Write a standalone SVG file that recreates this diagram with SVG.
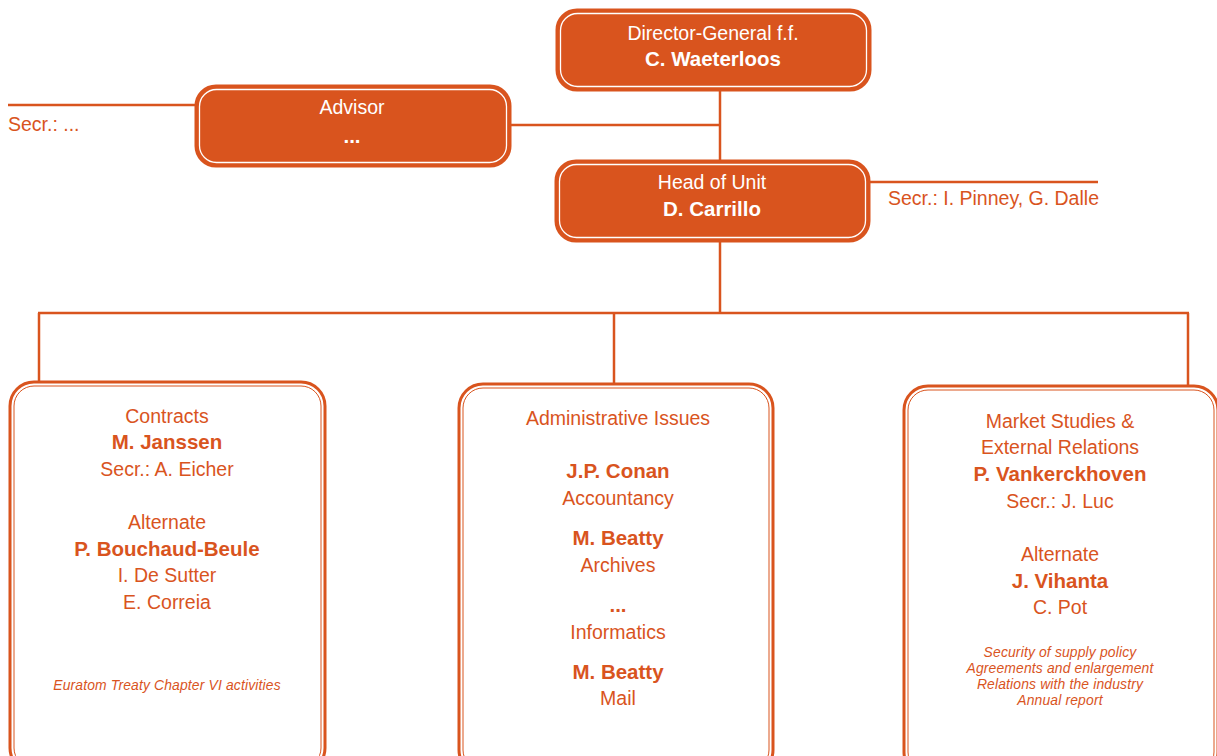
<svg xmlns="http://www.w3.org/2000/svg" width="1217" height="756" viewBox="0 0 1217 756">
<style>
.outer{fill:#fff;stroke:#D9541E;stroke-width:3}
.inner{fill:none;stroke:#D9541E;stroke-width:1}
.fouter{fill:#D9541E;stroke:#D9541E;stroke-width:3}
.finner{fill:none;stroke:#fff;stroke-width:1.3}
.c{stroke:#D9541E;stroke-width:2.5;fill:none}
text{font-family:"Liberation Sans",Arial,sans-serif;text-anchor:middle}
.w{fill:#fff;font-size:19.5px}
.wb{fill:#fff;font-size:20.5px;font-weight:bold}
.o{fill:#D9541E;font-size:19.5px}
.ob{fill:#D9541E;font-size:20.5px;font-weight:bold}
.it{fill:#D9541E;font-size:13.9px;font-style:italic;letter-spacing:0.15px}
.l{text-anchor:start}
</style>
<g id="connectors">
<line class="c" x1="720" y1="90" x2="720" y2="161"/>
<line class="c" x1="510" y1="125" x2="720" y2="125"/>
<line class="c" x1="8" y1="105" x2="197" y2="105"/>
<line class="c" x1="869" y1="182" x2="1098" y2="182"/>
<line class="c" x1="720" y1="241" x2="720" y2="313"/>
<line class="c" x1="38" y1="313" x2="1189" y2="313"/>
<line class="c" x1="39" y1="313" x2="39" y2="382"/>
<line class="c" x1="614" y1="313" x2="614" y2="384"/>
<line class="c" x1="1188" y1="313" x2="1188" y2="386"/>
</g>
<g id="dg">
<rect class="fouter" x="557" y="10" width="313" height="80" rx="20"/>
<rect class="finner" x="560.5" y="13.5" width="306" height="73" rx="17"/>
<text class="w" x="713" y="40">Director-General f.f.</text>
<text class="wb" x="713" y="66">C. Waeterloos</text>
</g>
<g id="advisor">
<rect class="fouter" x="196" y="86" width="314" height="80" rx="20"/>
<rect class="finner" x="199.5" y="89.5" width="307" height="73" rx="17"/>
<text class="w" x="352" y="114">Advisor</text>
<text class="wb" x="352" y="143">...</text>
<text class="o l" x="8" y="131">Secr.: ...</text>
</g>
<g id="head">
<rect class="fouter" x="556" y="161" width="313" height="80" rx="20"/>
<rect class="finner" x="559.5" y="164.5" width="306" height="73" rx="17"/>
<text class="w" x="712" y="189">Head of Unit</text>
<text class="wb" x="712" y="216">D. Carrillo</text>
<text class="o l" x="888" y="205">Secr.: I. Pinney, G. Dalle</text>
</g>
<g id="contracts">
<rect class="outer" x="10" y="382" width="315" height="390" rx="24"/>
<rect class="inner" x="14" y="386" width="307" height="382" rx="20"/>
<text class="o" x="167" y="423">Contracts</text>
<text class="ob" x="167" y="449">M. Janssen</text>
<text class="o" x="167" y="476">Secr.: A. Eicher</text>
<text class="o" x="167" y="529">Alternate</text>
<text class="ob" x="167" y="556">P. Bouchaud-Beule</text>
<text class="o" x="167" y="582">I. De Sutter</text>
<text class="o" x="167" y="609">E. Correia</text>
<text class="it" x="167" y="690">Euratom Treaty Chapter VI activities</text>
</g>
<g id="admin">
<rect class="outer" x="459" y="384" width="314" height="390" rx="24"/>
<rect class="inner" x="463" y="388" width="306" height="382" rx="20"/>
<text class="o" x="618" y="425">Administrative Issues</text>
<text class="ob" x="618" y="478">J.P. Conan</text>
<text class="o" x="618" y="505">Accountancy</text>
<text class="ob" x="618" y="545">M. Beatty</text>
<text class="o" x="618" y="572">Archives</text>
<text class="ob" x="618" y="612">...</text>
<text class="o" x="618" y="639">Informatics</text>
<text class="ob" x="618" y="679">M. Beatty</text>
<text class="o" x="618" y="705">Mail</text>
</g>
<g id="market">
<rect class="outer" x="904" y="386" width="314" height="390" rx="24"/>
<rect class="inner" x="908" y="390" width="306" height="382" rx="20"/>
<text class="o" x="1060" y="428">Market Studies &amp;</text>
<text class="o" x="1060" y="454">External Relations</text>
<text class="ob" x="1060" y="481">P. Vankerckhoven</text>
<text class="o" x="1060" y="508">Secr.: J. Luc</text>
<text class="o" x="1060" y="561">Alternate</text>
<text class="ob" x="1060" y="588">J. Vihanta</text>
<text class="o" x="1060" y="614">C. Pot</text>
<text class="it" x="1060" y="657">Security of supply policy</text>
<text class="it" x="1060" y="673">Agreements and enlargement</text>
<text class="it" x="1060" y="689">Relations with the industry</text>
<text class="it" x="1060" y="705">Annual report</text>
</g>
</svg>
